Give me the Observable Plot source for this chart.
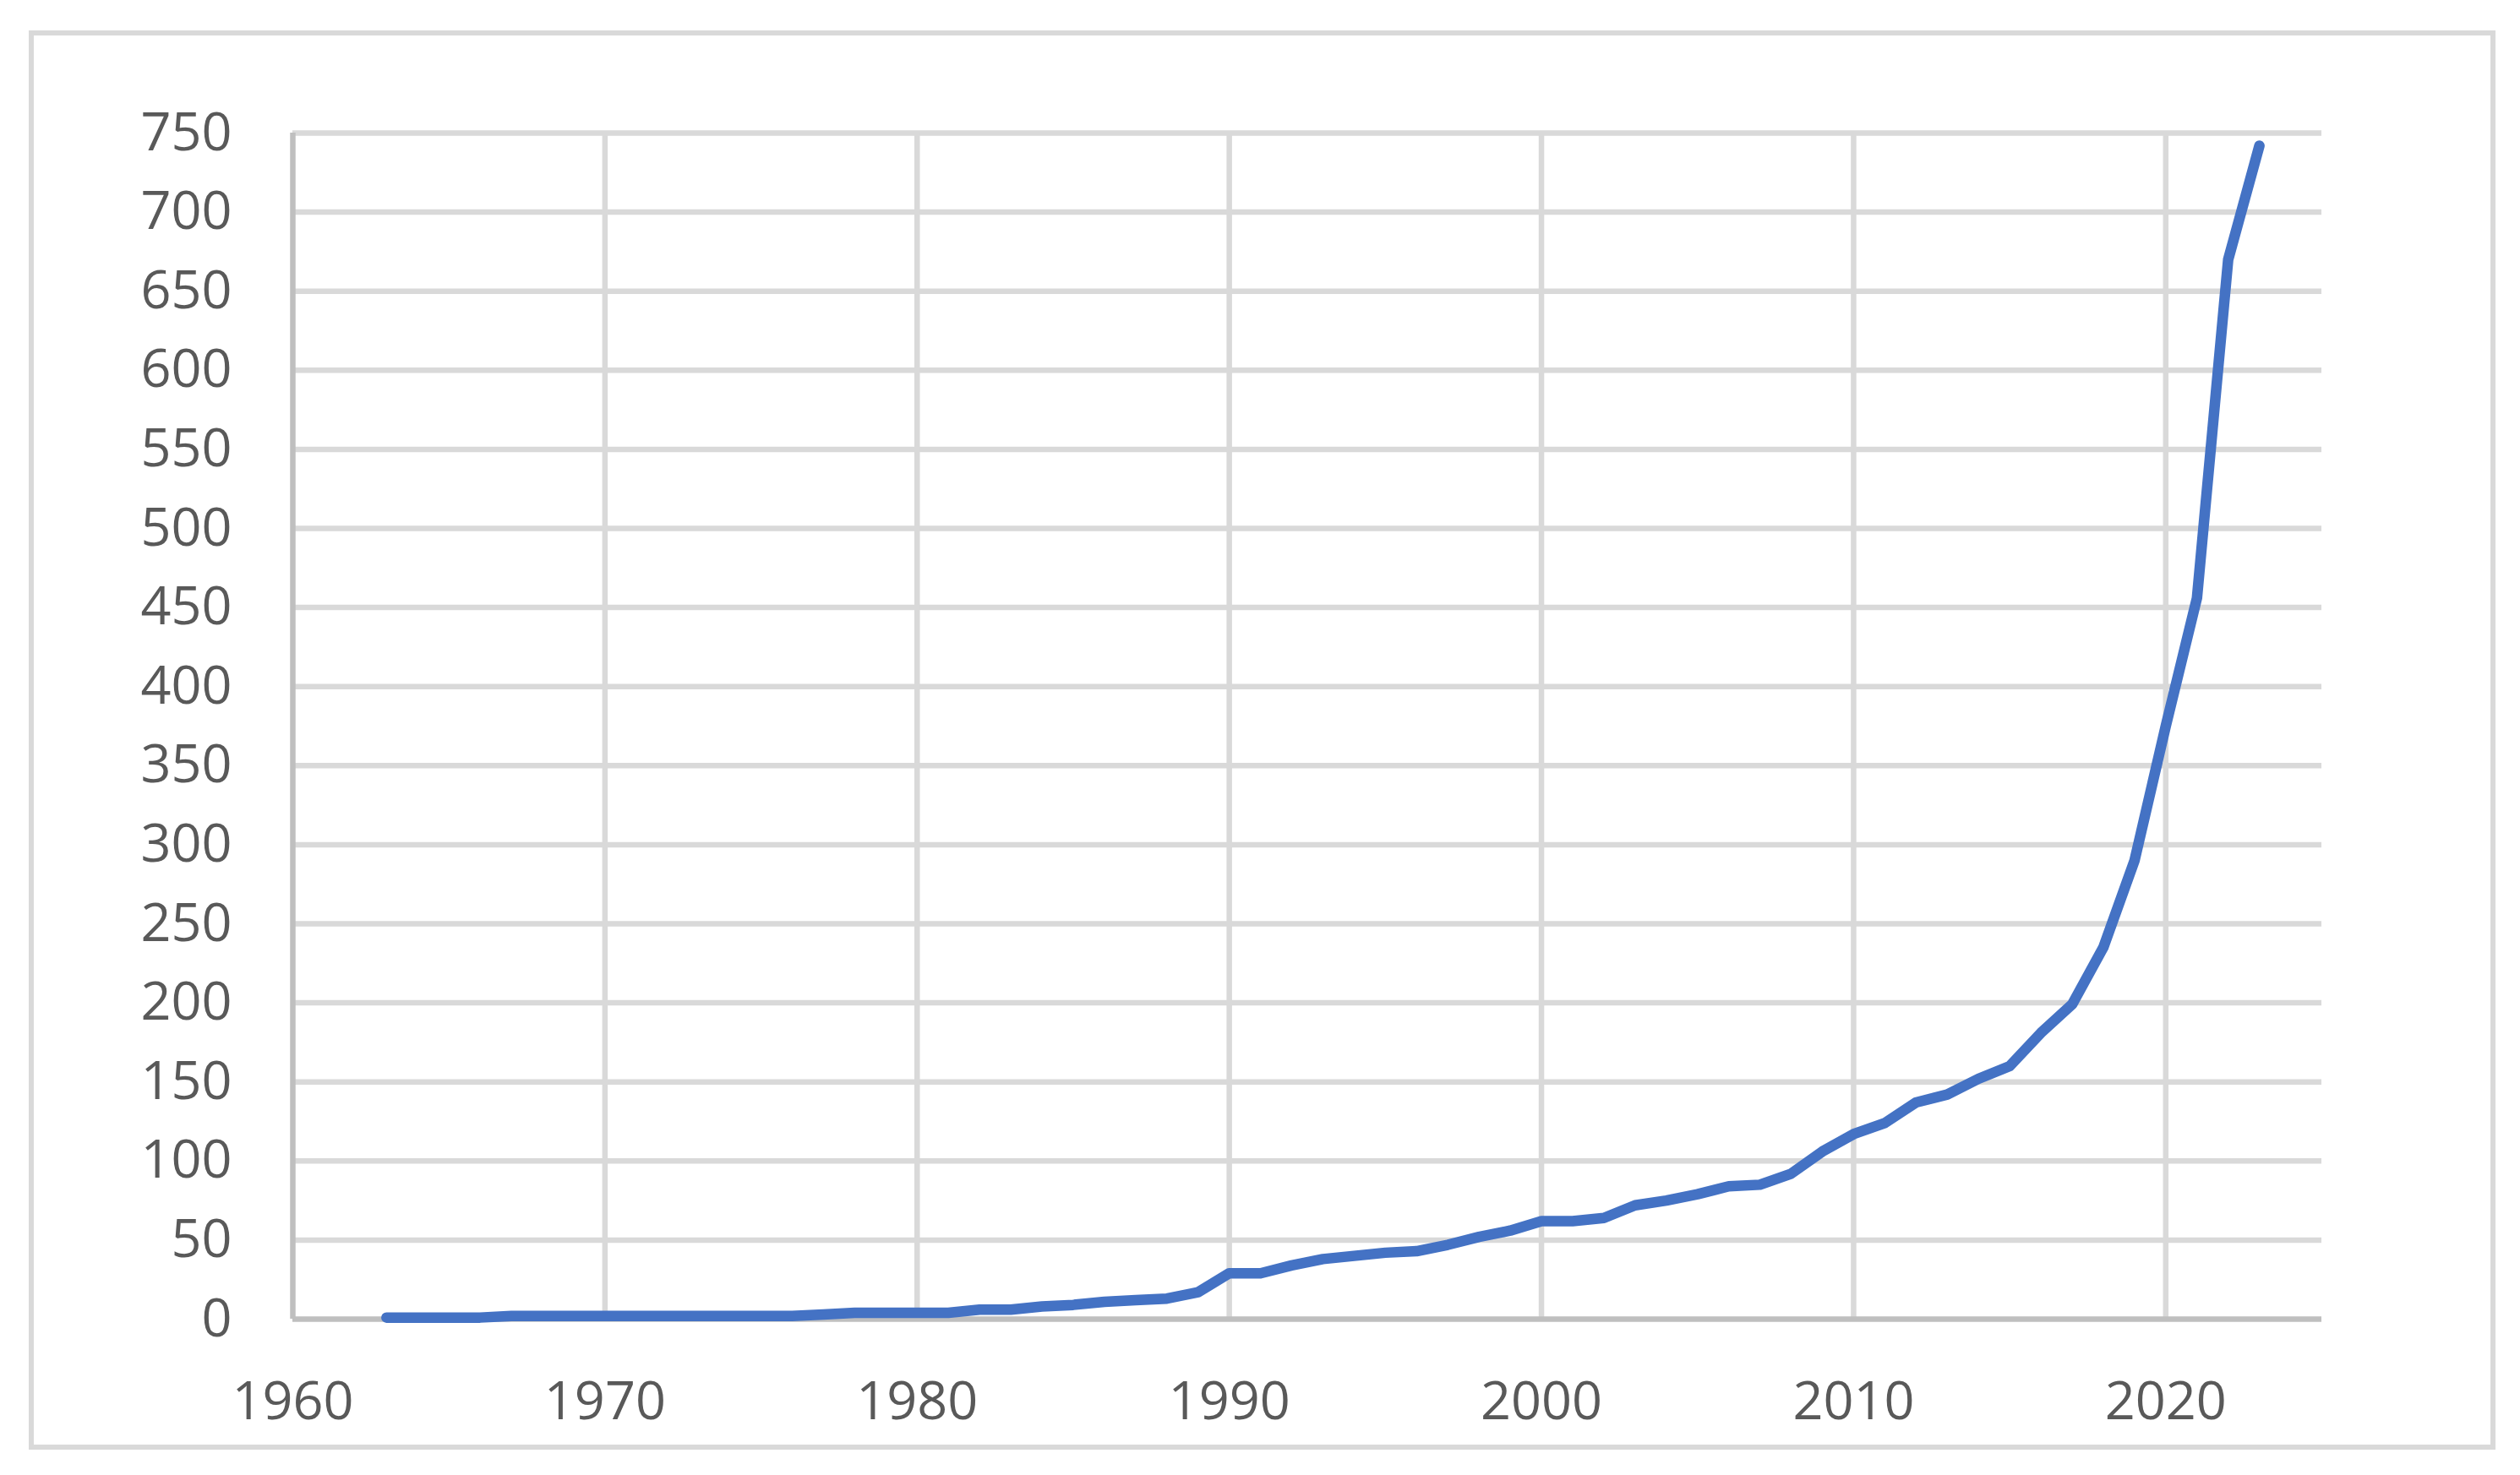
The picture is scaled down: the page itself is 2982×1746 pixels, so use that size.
<!DOCTYPE html>
<html>
<head>
<meta charset="utf-8">
<script src="https://cdn.jsdelivr.net/npm/d3@7"></script>
<script src="https://cdn.jsdelivr.net/npm/@observablehq/plot@0.6"></script>
<style>
  html, body { margin: 0; padding: 0; background: #ffffff; }
  #wrap { position: relative; width: 2982px; height: 1746px; overflow: hidden; }
  #frame { position: absolute; left: 34px; top: 36px; width: 2919px; height: 1680px;
           box-sizing: border-box; border: 6.5px solid #D9D9D9; pointer-events: none; }
  #chart { position: absolute; left: 0; top: 0; }
</style>
</head>
<body>
<div id="wrap"><div id="chart"></div><div id="frame"></div></div>
<script>
const years = [1963,1964,1965,1966,1967,1968,1969,1970,1971,1972,1973,1974,1975,1976,1977,1978,1979,1980,
  1981,1982,1983,1984,1985,1986,1987,1988,1989,1990,1991,1992,1993,1994,1995,1996,1997,1998,1999,2000,
  2001,2002,2003,2004,2005,2006,2007,2008,2009,2010,2011,2012,2013,2014,2015,2016,2017,2018,2019,2020,
  2021,2022,2023];
const values = [1,1,1,1,2,2,2,2,2,2,2,2,2,2,3,4,4,4,
  4,6,6,8,9,11,12,13,17,29,29,34,38,40,42,43,47,52,56,62,
  62,64,72,75,79,84,85,92,106,117,124,137,142,152,160,181,199,235,290,375,
  456,670,742];
const xTicks = [1960,1970,1980,1990,2000,2010,2020];
const yTicks = [0,50,100,150,200,250,300,350,400,450,500,550,600,650,700,750];

const data = years.map((y, i) => ({year: y, value: values[i]}));

const chart = Plot.plot({
  width: 2982,
  height: 1746,
  marginLeft: 346,
  marginRight: 235,
  marginTop: 157,
  marginBottom: 185,
  style: {background: "transparent", fontFamily: "'Open Sans', sans-serif", fontSize: "63px", color: "#595959", overflow: "visible"},
  x: {domain: [1960, 2025], ticks: xTicks, tickFormat: d => String(d), tickSize: 0, tickPadding: 74, label: null},
  y: {domain: [0, 750], ticks: yTicks, tickFormat: d => String(d), tickSize: 0, tickPadding: 72, label: null},
  marks: [
    Plot.ruleY(yTicks.filter(t => t !== 0), {stroke: "#D9D9D9", strokeWidth: 6.5}),
    Plot.ruleX(xTicks.filter(t => t !== 1960), {stroke: "#D9D9D9", strokeWidth: 6.5}),
    Plot.ruleX([1960], {stroke: "#BFBFBF", strokeWidth: 6.5}),
    Plot.ruleY([0], {stroke: "#BFBFBF", strokeWidth: 6.5}),
    Plot.line(data, {x: "year", y: "value", stroke: "#4472C4", strokeWidth: 12.5,
      strokeLinecap: "round", strokeLinejoin: "round"})
  ]
});
document.getElementById("chart").appendChild(chart);
</script>
</body>
</html>
